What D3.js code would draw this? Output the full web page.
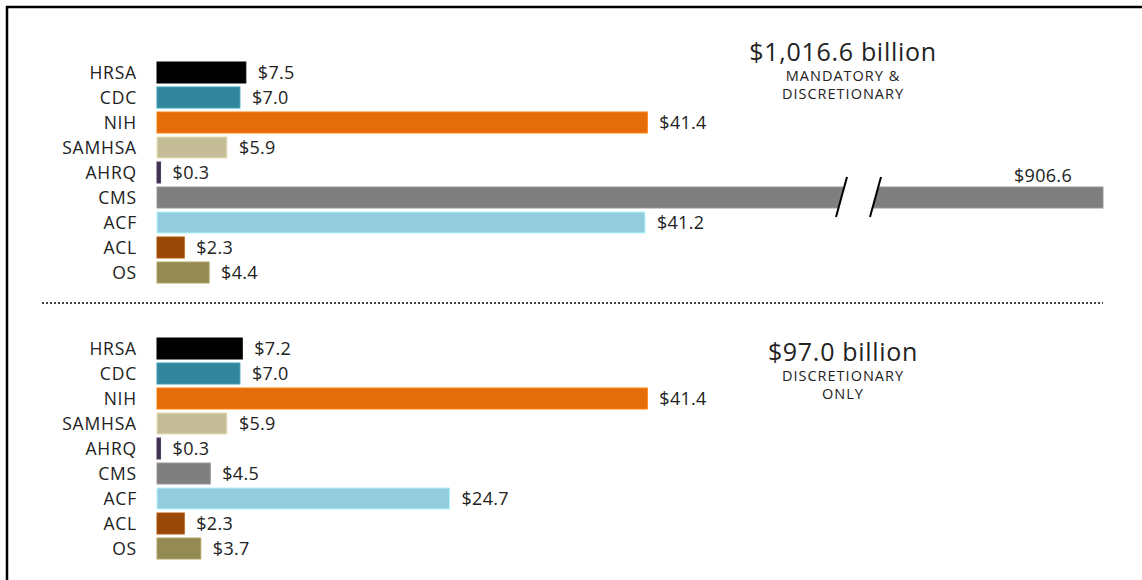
<!DOCTYPE html>
<meta charset="utf-8">
<script src="https://d3js.org/d3.v7.min.js"></script>
<style>
  body { margin: 0; background: #fff; }
  text { font-family: "Open Sans", sans-serif; fill: #222; }
</style>
<div id="chart"></div>
<script>
// agencies, top to bottom
var agencies = ["HRSA", "CDC", "NIH", "SAMHSA", "AHRQ", "CMS", "ACF", "ACL", "OS"];
var colors = ["#000000", "#31869b", "#e46c0a", "#c4bd97", "#403152", "#7f7f7f", "#93cddd", "#984807", "#948a54"];

// $ billions
var mandatoryDiscretionary = [7.5, 7.0, 41.4, 5.9, 0.3, 906.6, 41.2, 2.3, 4.4];
var discretionaryOnly = [7.2, 7.0, 41.4, 5.9, 0.3, 4.5, 24.7, 2.3, 3.7];

var panelTotals = ["$1,016.6 billion", "$97.0 billion"];
var panelSubtitles = [["MANDATORY &", "DISCRETIONARY"], ["DISCRETIONARY", "ONLY"]];

var width = 1142, height = 580;

var svg = d3.select("#chart")
  .append("svg")
  .attr("width", width)
  .attr("height", height);

// frame (only top and left edges are visible)
svg.append("rect")
  .attr("x", 7).attr("y", 7)
  .attr("width", 1300).attr("height", 800)
  .attr("fill", "none")
  .attr("stroke", "#000")
  .attr("stroke-width", 2.5);

// broken x scale: linear up to the break, then squeezed for CMS
var breakValue = 57.5;
var x = d3.scaleLinear()
  .domain([0, breakValue, 906.6])
  .range([157, 838, 1103]);

function drawPanel(values, top, headY, total, subtitle) {
  var g = svg.append("g");

  var y = d3.scaleBand()
    .domain(agencies)
    .range([top, top + agencies.length * 25])
    .paddingInner(0.16)
    .paddingOuter(0.08);

  var rows = agencies.map(function (a, i) {
    return { name: a, value: values[i], color: colors[i] };
  });

  // category labels
  g.selectAll(".cat")
    .data(rows)
    .enter()
    .append("text")
    .attr("x", 137)
    .attr("y", function (d) { return y(d.name) + y.bandwidth() / 2; })
    .attr("dy", "0.36em")
    .attr("text-anchor", "end")
    .attr("font-size", "17.5px")
    .attr("letter-spacing", "0.8px")
    .text(function (d) { return d.name; });

  // bars
  g.selectAll(".bar")
    .data(rows)
    .enter()
    .append("rect")
    .attr("x", x(0))
    .attr("y", function (d) { return y(d.name); })
    .attr("width", function (d) { return x(d.value) - x(0); })
    .attr("height", y.bandwidth())
    .attr("fill", function (d) { return d.color; })
    .attr("stroke", function (d) { return d3.color(d.color).brighter(0.5); })
    .attr("stroke-width", 1);

  // value labels
  g.selectAll(".val")
    .data(rows)
    .enter()
    .append("text")
    .attr("x", function (d) {
      return d.value > breakValue ? x(d.value) - 31 : x(d.value) + 12;
    })
    .attr("y", function (d) {
      return d.value > breakValue ? y(d.name) - 11 : y(d.name) + y.bandwidth() / 2;
    })
    .attr("dy", "0.36em")
    .attr("text-anchor", function (d) { return d.value > breakValue ? "end" : "start"; })
    .attr("font-size", "18px")
    .attr("letter-spacing", "0.3px")
    .text(function (d) { return "$" + d3.format(".1f")(d.value); });

  // axis break marks
  rows.filter(function (d) { return d.value > breakValue; }).forEach(function (d) {
    var y0 = y(d.name) - 10, y1 = y(d.name) + y.bandwidth() + 9;
    var xa = x(breakValue), xb = xa + 34;
    g.append("path")
      .attr("d", "M" + (xa - 2) + "," + y1 + "L" + (xa + 9) + "," + y0 +
                 "L" + (xb + 9) + "," + y0 + "L" + (xb - 2) + "," + y1 + "Z")
      .attr("fill", "#fff");
    [xa, xb].forEach(function (xs) {
      g.append("line")
        .attr("x1", xs - 2).attr("y1", y1)
        .attr("x2", xs + 9).attr("y2", y0)
        .attr("stroke", "#000")
        .attr("stroke-width", 2);
    });
  });

  // panel heading
  var hx = 843;
  g.append("text")
    .attr("x", hx)
    .attr("y", headY)
    .attr("text-anchor", "middle")
    .attr("font-size", "25px")
    .attr("letter-spacing", "0.7px")
    .text(total);
  g.selectAll(".sub")
    .data(subtitle)
    .enter()
    .append("text")
    .attr("x", hx)
    .attr("y", function (d, i) { return headY + 20 + i * 18; })
    .attr("text-anchor", "middle")
    .attr("font-size", "14.5px")
    .attr("letter-spacing", "1px")
    .text(function (d) { return d; });
}

drawPanel(mandatoryDiscretionary, 60, 61, panelTotals[0], panelSubtitles[0]);
drawPanel(discretionaryOnly, 336, 361, panelTotals[1], panelSubtitles[1]);

// dotted divider
svg.append("line")
  .attr("x1", 42).attr("x2", 1103)
  .attr("y1", 303).attr("y2", 303)
  .attr("stroke", "#444")
  .attr("stroke-width", 2)
  .attr("stroke-dasharray", "2,2");
</script>
